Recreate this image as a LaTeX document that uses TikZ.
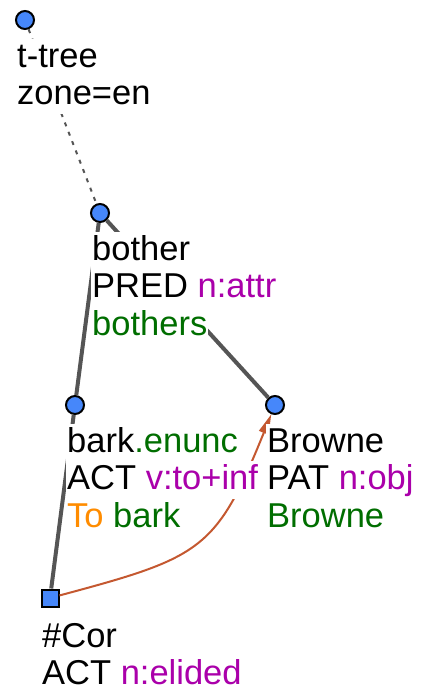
\documentclass[tikz,border=0pt]{standalone}
\usepackage{fontspec}
\setmainfont{Liberation Sans}
\usetikzlibrary{arrows.meta}
\definecolor{nodeblue}{RGB}{70,135,250}
\definecolor{edgegray}{RGB}{85,85,85}
\definecolor{funcpurple}{RGB}{170,0,170}
\definecolor{formgreen}{RGB}{0,110,0}
\definecolor{auxorange}{RGB}{255,140,0}
\definecolor{corefarrow}{RGB}{196,88,48}

\begin{document}
\begin{tikzpicture}[x=1pt,y=1pt,tnode/.style={circle,draw=black,line width=2pt,fill=nodeblue,minimum size=18pt,inner sep=0pt},snode/.style={rectangle,draw=black,line width=2pt,fill=nodeblue,minimum size=17pt,inner sep=0pt},lbl/.style={anchor=base west,fill=white,inner xsep=1pt,inner ysep=0pt,text height=28.5pt,text depth=9.2pt,text=black,font=\fontsize{34.5pt}{37.5pt}\selectfont},tedge/.style={draw=edgegray,line width=4pt},rootedge/.style={draw=edgegray,line width=2pt,dash pattern=on 4pt off 6pt},coref/.style={draw=corefarrow,line width=2pt,-{Triangle[length=20pt,width=10pt]}}]
\useasboundingbox (0,0) rectangle (432,-694);
\node[tnode] (root) at (25,-20) {};
\node[tnode] (bother) at (100,-213) {};
\node[tnode] (bark) at (75,-405) {};
\node[tnode] (browne) at (275,-405) {};
\node[snode] (cor) at (50,-598) {};
\draw[rootedge] (root) -- (bother);
\draw[tedge] (bother) -- (bark);
\draw[tedge] (bother) -- (browne);
\draw[tedge] (bark) -- (cor);
\draw[coref] (cor) to[out=15,in=-112,looseness=1.35] (browne);
% one label node per line, white behind each line
\node[lbl] (rootlbla) at (16,-67) {t-tree};
\node[lbl] (rootlblb) at (16,-104.5) {zone=en};
\node[lbl] (botherlbla) at (91,-260) {bother};
\node[lbl] (botherlblb) at (91,-297.5) {PRED \textcolor{funcpurple}{n:attr}};
\node[lbl] (botherlblc) at (91,-335) {\textcolor{formgreen}{bothers}};
\node[lbl] (barklbla) at (66,-452) {bark\textcolor{formgreen}{.enunc}};
\node[lbl] (barklblb) at (66,-489.5) {ACT \textcolor{funcpurple}{v:to+inf}};
\node[lbl] (barklblc) at (66,-527) {\textcolor{auxorange}{To} \textcolor{formgreen}{bark}};
\node[lbl] (brownelbla) at (266,-452) {Browne};
\node[lbl] (brownelblb) at (266,-489.5) {PAT \textcolor{funcpurple}{n:obj}};
\node[lbl] (brownelblc) at (266,-527) {\textcolor{formgreen}{Browne}};
\node[lbl] (corlbla) at (41,-647) {\#Cor};
\node[lbl] (corlblb) at (41,-684) {ACT \textcolor{funcpurple}{n:elided}};
\end{tikzpicture}
\end{document}
